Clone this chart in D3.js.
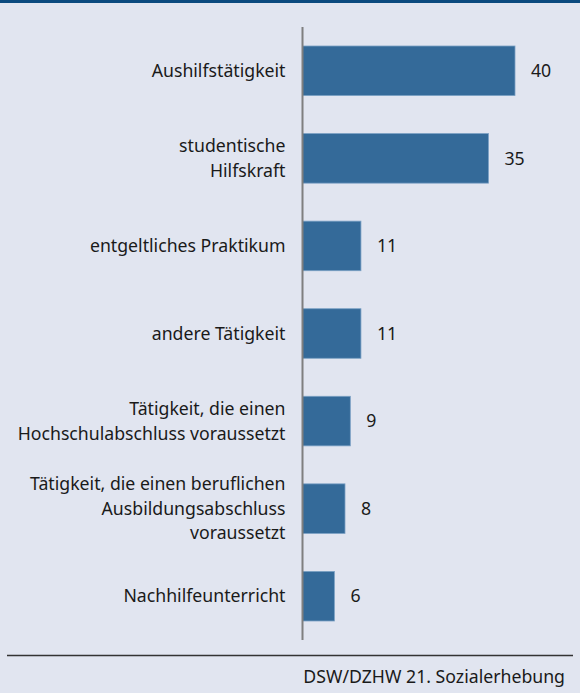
<!DOCTYPE html>
<html>
<head>
<meta charset="utf-8">
<script src="https://cdn.jsdelivr.net/npm/d3@7"></script>
<style>
  html, body { margin: 0; padding: 0; background: #e1e5f0; }
  svg { display: block; font-family: "Noto Sans", sans-serif; }
</style>
</head>
<body>
<div id="chart"></div>
<script>
// Kategorien (Zeilenumbrüche als Array)
const categories = [
  ["Aushilfstätigkeit"],
  ["studentische", "Hilfskraft"],
  ["entgeltliches Praktikum"],
  ["andere Tätigkeit"],
  ["Tätigkeit, die einen", "Hochschulabschluss voraussetzt"],
  ["Tätigkeit, die einen beruflichen", "Ausbildungsabschluss", "voraussetzt"],
  ["Nachhilfeunterricht"]
];
const values = [40, 35, 11, 11, 9, 8, 6];
const source = "DSW/DZHW 21. Sozialerhebung";

const width = 580, height = 693;
const axisX = 302.5;
const fontSize = 17.7;
const lineH = 24.5;

const svg = d3.select("#chart").append("svg")
  .attr("width", width)
  .attr("height", height);

// Hintergrund und Balken oben
svg.append("rect").attr("width", width).attr("height", height).attr("fill", "#e1e5f0");
svg.append("rect").attr("width", width).attr("height", 3).attr("fill", "#0b4a7f");

const data = categories.map((c, i) => ({ id: i, label: c, value: values[i] }));

const xScale = d3.scaleLinear()
  .domain([0, 40])
  .range([axisX, axisX + 212.5]);

const yScale = d3.scaleBand()
  .domain(data.map(d => d.id))
  .range([27, 640])
  .paddingInner(0.434)
  .paddingOuter(0.217);

// Balken
svg.append("g").selectAll("rect")
  .data(data)
  .join("rect")
  .attr("x", xScale(0))
  .attr("y", d => yScale(d.id))
  .attr("width", d => xScale(d.value) - xScale(0))
  .attr("height", yScale.bandwidth())
  .attr("fill", "#346a99")
  .attr("stroke", "#7aa0c4")
  .attr("stroke-width", 0.8);

// Werte
svg.append("g").selectAll("text")
  .data(data)
  .join("text")
  .attr("x", d => xScale(d.value) + 16)
  .attr("y", d => yScale(d.id) + yScale.bandwidth() / 2)
  .attr("dy", "0.35em")
  .attr("font-size", fontSize)
  .attr("fill", "#1a1a1a")
  .text(d => d.value);

// y-Achse mit mehrzeiligen Beschriftungen
const axisy = d3.axisLeft(yScale).tickSize(0).tickPadding(17).tickFormat("");
const y = svg.append("g")
  .attr("transform", "translate(" + axisX + ",0)")
  .call(axisy);
y.select(".domain").attr("stroke", "#7f7f7f").attr("stroke-width", 2)
  .attr("d", "M0," + 27 + "V" + 640);
y.selectAll(".tick text")
  .attr("font-size", fontSize)
  .attr("fill", "#1a1a1a")
  .attr("font-family", "Noto Sans, sans-serif")
  .each(function (id) {
    const lines = categories[id];
    const t = d3.select(this).attr("dy", null);
    lines.forEach((l, k) => {
      t.append("tspan")
        .attr("x", -17)
        .attr("y", (k - (lines.length - 1) / 2) * lineH)
        .attr("dy", "0.35em")
        .text(l);
    });
  });

// Linie unten und Quelle
svg.append("line")
  .attr("x1", 7).attr("x2", 573)
  .attr("y1", 655.5).attr("y2", 655.5)
  .attr("stroke", "#333").attr("stroke-width", 1.3);
svg.append("text")
  .attr("x", 565).attr("y", 683)
  .attr("text-anchor", "end")
  .attr("font-size", fontSize)
  .attr("fill", "#1a1a1a")
  .text(source);
</script>
</body>
</html>
